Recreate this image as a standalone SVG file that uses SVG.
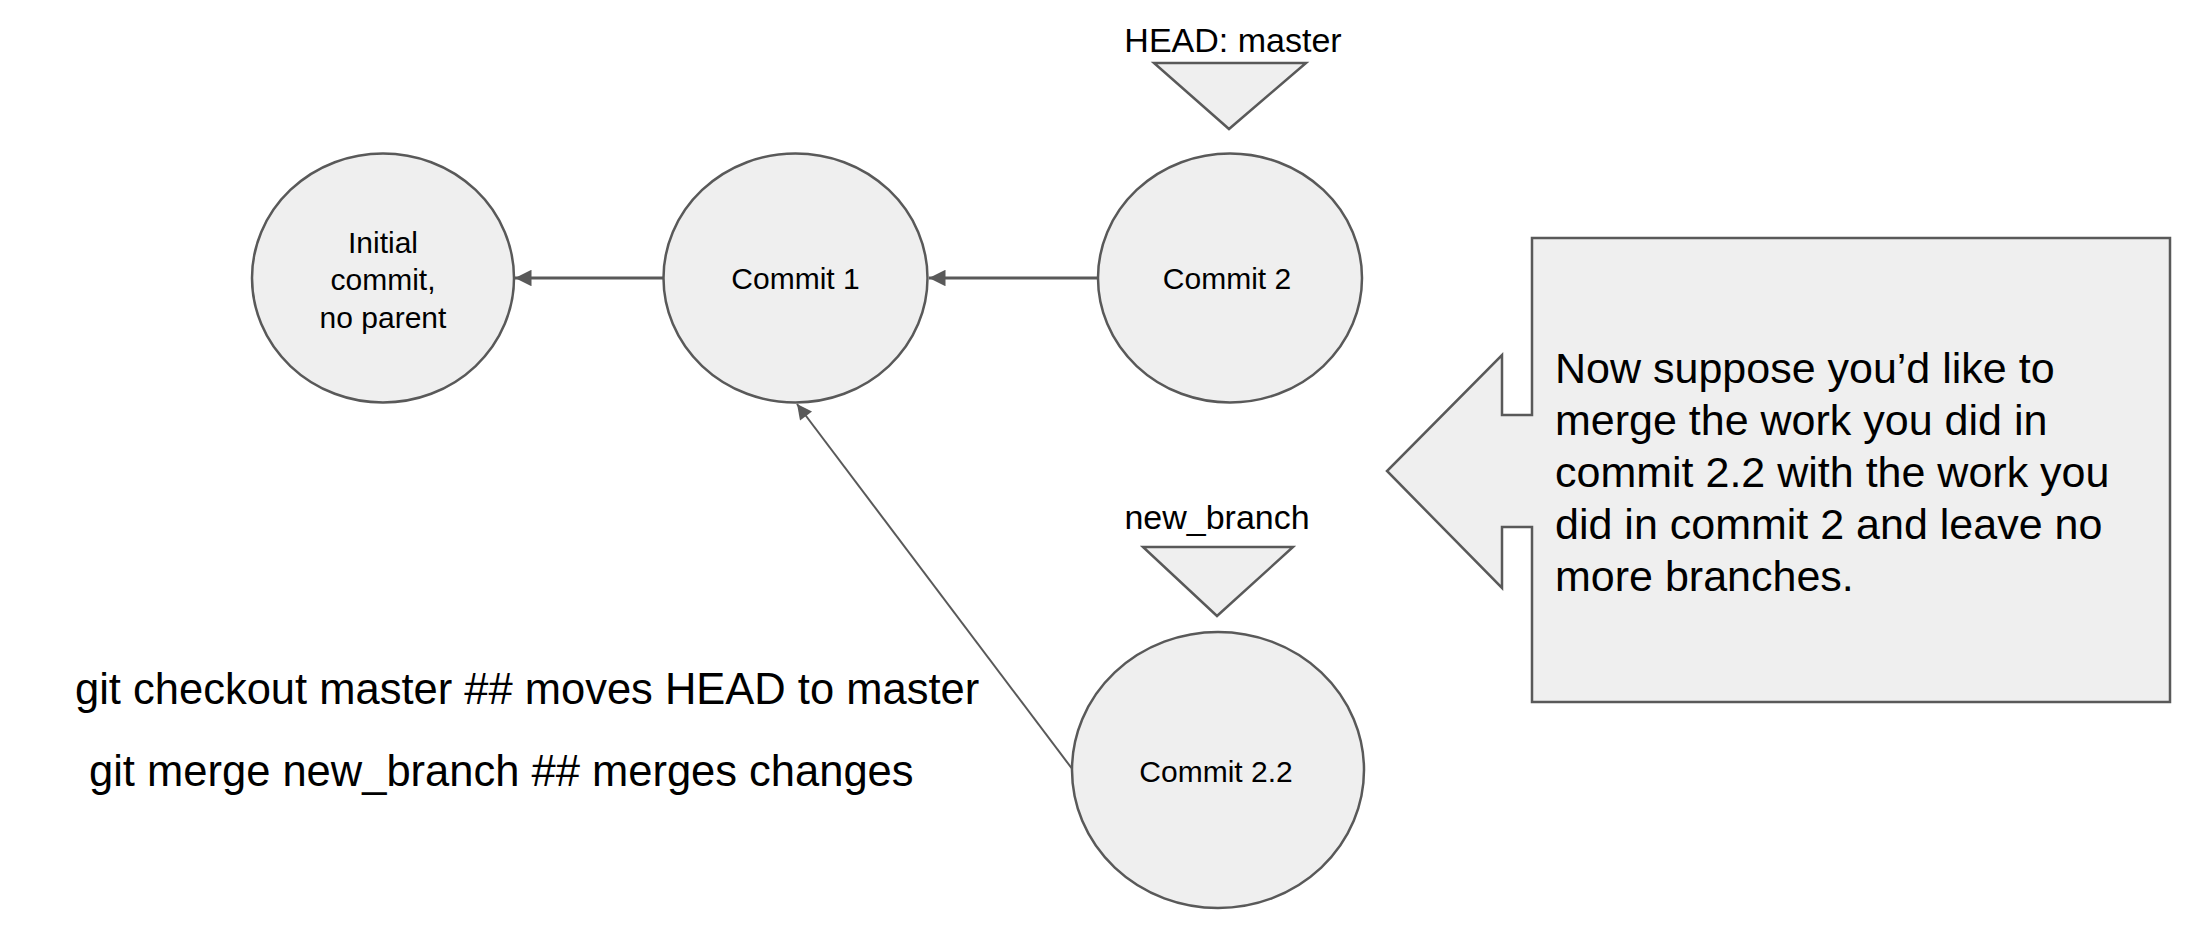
<svg xmlns="http://www.w3.org/2000/svg" width="2198" height="952" viewBox="0 0 2198 952">
<style>
.node{fill:#efefef;stroke:#595959;stroke-width:2.5}
.t{font-family:"Liberation Sans",Arial,sans-serif;fill:#000}
.c30{font-size:30px;text-anchor:middle}
.c34{font-size:34px;text-anchor:middle}
.big{font-size:43.5px}
.call{font-size:43px}
.edge{stroke:#595959;fill:none}
</style>
<defs>
<marker id="ah" viewBox="0 0 10 10" refX="10" refY="5" markerWidth="6.5" markerHeight="5.5" markerUnits="strokeWidth" orient="auto">
<path d="M0,0 L10,5 L0,10 Z" fill="#595959"/>
</marker>
<marker id="ah2" viewBox="0 0 10 10" refX="10" refY="5" markerWidth="9" markerHeight="7.5" markerUnits="strokeWidth" orient="auto">
<path d="M0,0 L10,5 L0,10 Z" fill="#595959"/>
</marker>
</defs>
<rect width="2198" height="952" fill="#ffffff"/>
<g id="connectors">
<line class="edge" x1="663" y1="278" x2="515" y2="278" stroke-width="3" marker-end="url(#ah)"/>
<line class="edge" x1="1098" y1="278" x2="929" y2="278" stroke-width="3" marker-end="url(#ah)"/>
<line class="edge" x1="1073" y1="770" x2="797" y2="404" stroke-width="2" marker-end="url(#ah2)"/>
</g>
<g id="initial">
<ellipse class="node" cx="383" cy="278" rx="131" ry="124.5"/>
<text class="t c30" x="383" y="253">Initial</text>
<text class="t c30" x="383" y="290">commit,</text>
<text class="t c30" x="383" y="328">no parent</text>
</g>
<g id="commit1">
<ellipse class="node" cx="795.5" cy="278" rx="132" ry="124.5"/>
<text class="t c30" x="795.5" y="289">Commit 1</text>
</g>
<g id="commit2">
<ellipse class="node" cx="1230" cy="278" rx="132" ry="124.5"/>
<text class="t c30" x="1227" y="289">Commit 2</text>
</g>
<g id="commit22">
<ellipse class="node" cx="1218" cy="770" rx="146" ry="138"/>
<text class="t c30" x="1216" y="782">Commit 2.2</text>
</g>
<g id="head">
<text class="t c34" x="1233" y="52">HEAD: master</text>
<polygon class="node" points="1154,63 1306,63 1229,129"/>
</g>
<g id="newbranch">
<text class="t c34" x="1217" y="529">new_branch</text>
<polygon class="node" points="1143,547 1293,547 1217,616"/>
</g>
<g id="commands">
<text class="t big" x="75" y="704">git checkout master ## moves HEAD to master</text>
<text class="t big" x="89" y="786">git merge new_branch ## merges changes</text>
</g>
<g id="callout">
<path class="node" d="M1532,238 H2170 V702 H1532 V527 H1502 V588 L1387,471 L1502,355 V415 H1532 Z"/>
<text class="t call" x="1555" y="383">Now suppose you’d like to</text>
<text class="t call" x="1555" y="435">merge the work you did in</text>
<text class="t call" x="1555" y="487">commit 2.2 with the work you</text>
<text class="t call" x="1555" y="539">did in commit 2 and leave no</text>
<text class="t call" x="1555" y="591">more branches.</text>
</g>
</svg>
